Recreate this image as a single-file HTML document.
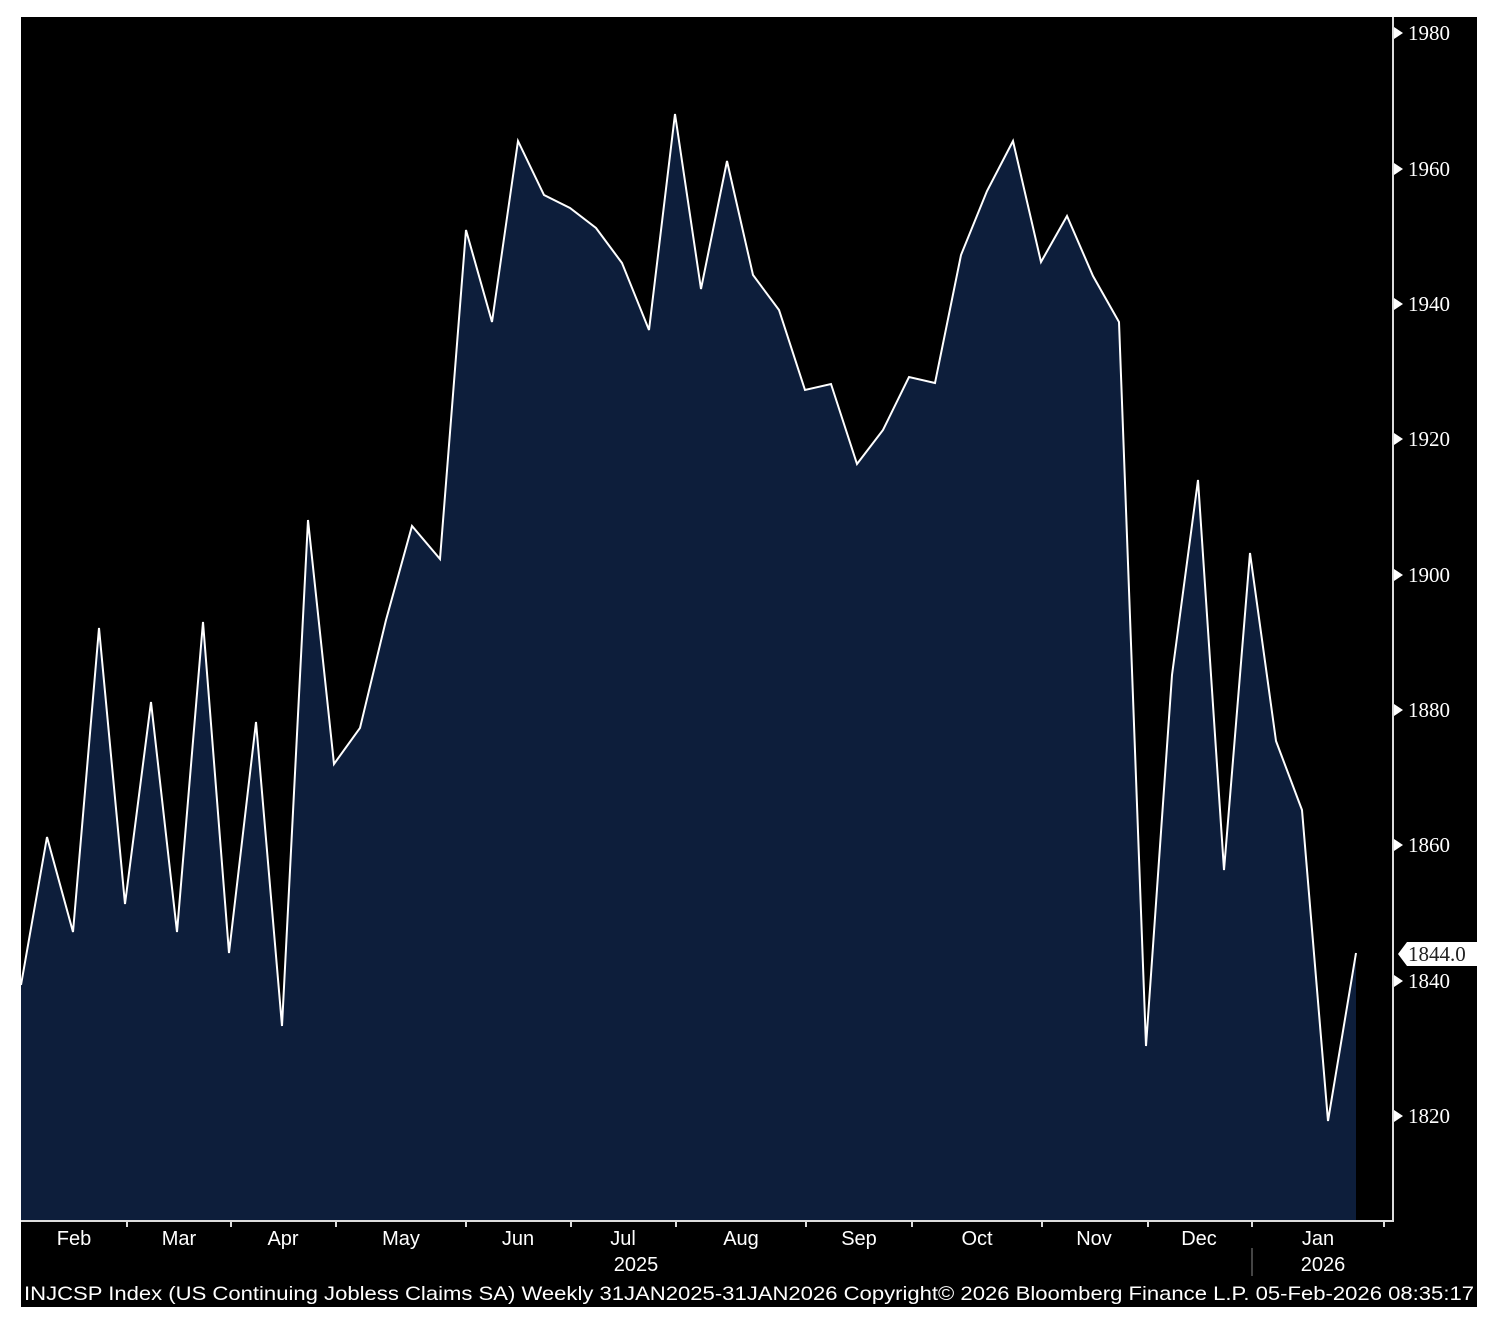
<!DOCTYPE html>
<html><head><style>
html,body{margin:0;padding:0;background:#fff;}
svg{display:block;}
</style></head><body>
<svg width="1502" height="1330" viewBox="0 0 1502 1330" xmlns="http://www.w3.org/2000/svg">
<rect x="21" y="17" width="1456" height="1290" fill="#000"/>
<polygon fill="#0d1e3b" points="21,1221 21,985 47,837 73,932 99,628 125,904 151,702 177,932 203,622 229,953 256,722 282,1026 308,520 334,764 360,728 386,620 412,526 440,559 466,230 492,322 518,141 544,195 570,208 596,228 622,263 649,330 675,114 701,289 727,161 753,275 779,310 805,390 831,384 857,464 883,430 909,377 935,383 961,255 987,191 1013,141 1041,262 1067,216 1093,276 1119,322 1146,1046 1172,675 1198,480 1224,870 1250,553 1276,741 1302,810 1328,1121 1356,953 1356,1221"/>
<polyline fill="none" stroke="#fff" stroke-width="2" stroke-linejoin="miter" points="21,985 47,837 73,932 99,628 125,904 151,702 177,932 203,622 229,953 256,722 282,1026 308,520 334,764 360,728 386,620 412,526 440,559 466,230 492,322 518,141 544,195 570,208 596,228 622,263 649,330 675,114 701,289 727,161 753,275 779,310 805,390 831,384 857,464 883,430 909,377 935,383 961,255 987,191 1013,141 1041,262 1067,216 1093,276 1119,322 1146,1046 1172,675 1198,480 1224,870 1250,553 1276,741 1302,810 1328,1121 1356,953"/>
<g stroke="#ddd" stroke-width="2" fill="none">
<line x1="1393" y1="17" x2="1393" y2="1222"/>
<line x1="21" y1="1221" x2="1393" y2="1221"/>
<path d="M127 1221v6M231 1221v6M336 1221v6M466 1221v6M571 1221v6M676 1221v6M806 1221v6M912 1221v6M1042 1221v6M1148 1221v6M1252 1221v6M1384 1221v6"/>
<path d="M1393 33h6M1393 169h6M1393 304h6M1393 439h6M1393 575h6M1393 710h6M1393 845h6M1393 981h6M1393 1116h6" stroke="#ddd"/>
<line x1="1252" y1="1248" x2="1252" y2="1276" stroke="#888" stroke-width="1"/>
</g>
<g fill="#fff">
<polygon points="1394,27 1403,33 1394,39"/><polygon points="1394,163 1403,169 1394,175"/><polygon points="1394,298 1403,304 1394,310"/><polygon points="1394,433 1403,439 1394,445"/><polygon points="1394,569 1403,575 1394,581"/><polygon points="1394,704 1403,710 1394,716"/><polygon points="1394,839 1403,845 1394,851"/><polygon points="1394,975 1403,981 1394,987"/><polygon points="1394,1110 1403,1116 1394,1122"/>
<polygon points="1398,954 1407,942 1477,942 1477,966 1407,966"/>
</g>
<g font-family="Liberation Serif, serif" font-size="21" fill="#fff">
<text x="1408" y="40">1980</text><text x="1408" y="176">1960</text><text x="1408" y="311">1940</text><text x="1408" y="446">1920</text><text x="1408" y="582">1900</text><text x="1408" y="717">1880</text><text x="1408" y="852">1860</text><text x="1408" y="988">1840</text><text x="1408" y="1123">1820</text>
<text x="1408" y="961" fill="#222">1844.0</text>
</g>
<g font-family="Liberation Sans, sans-serif" font-size="20" fill="#fff" text-anchor="middle">
<text x="74" y="1245">Feb</text><text x="179" y="1245">Mar</text><text x="283" y="1245">Apr</text><text x="401" y="1245">May</text><text x="518" y="1245">Jun</text><text x="623" y="1245">Jul</text><text x="741" y="1245">Aug</text><text x="859" y="1245">Sep</text><text x="977" y="1245">Oct</text><text x="1094" y="1245">Nov</text><text x="1199" y="1245">Dec</text><text x="1318" y="1245">Jan</text>
<text x="636" y="1271">2025</text><text x="1323" y="1271">2026</text>
</g>
<text x="24" y="1300" font-family="Liberation Sans, sans-serif" font-size="19.5" fill="#fff" textLength="1450" lengthAdjust="spacingAndGlyphs">INJCSP Index (US Continuing Jobless Claims SA) Weekly 31JAN2025-31JAN2026  Copyright© 2026 Bloomberg Finance L.P.   05-Feb-2026 08:35:17</text>
</svg>
</body></html>
